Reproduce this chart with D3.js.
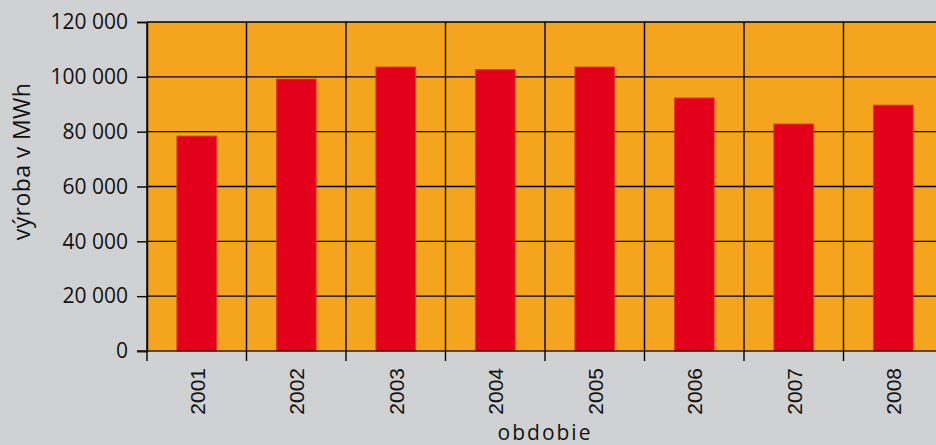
<!DOCTYPE html>
<html lang="sk">
<head>
  <meta charset="UTF-8" />
  <title>Výroba v MWh</title>
  <script src="https://d3js.org/d3.v7.min.js"></script>
  <style>
    body {
      margin: 0;
      background: #d0d1d3;
      overflow: hidden;
    }
    svg {
      display: block;
    }
  </style>
</head>
<body>
  <svg width="936" height="445"></svg>

  <script>
    // data
    const years = ["2001", "2002", "2003", "2004", "2005", "2006", "2007", "2008"];
    const production = [78400, 99200, 103600, 102700, 103600, 92300, 82800, 89700];
    const yTicks = [0, 20000, 40000, 60000, 80000, 100000, 120000];

    const svg = d3.select("svg");

    const plotLeft = 147, plotTop = 22, plotBottom = 351;
    const plotRight = 943; // last band runs past the picture edge

    const x = d3.scaleBand()
      .domain(years)
      .range([plotLeft, plotRight])
      .paddingInner(0.6)
      .paddingOuter(0.3);

    const y = d3.scaleLinear()
      .domain([0, 120000])
      .range([plotBottom, plotTop]);

    const fmt = v => d3.format(",")(v).replace(/,/g, " ");

    // plot background
    svg.append("rect")
      .attr("x", plotLeft)
      .attr("y", plotTop)
      .attr("width", plotRight - plotLeft)
      .attr("height", plotBottom - plotTop)
      .attr("fill", "#f5a41d");

    // horizontal grid
    svg.append("g")
      .selectAll("line")
      .data(yTicks.filter(d => d > 0))
      .join("line")
      .attr("x1", plotLeft)
      .attr("x2", plotRight)
      .attr("y1", d => y(d))
      .attr("y2", d => y(d))
      .attr("stroke", "#000")
      .attr("stroke-width", 1.4);

    // vertical grid at band boundaries
    const step = x.step();
    const bounds = years.map((d, i) => plotLeft + i * step);
    bounds.push(plotRight);
    svg.append("g")
      .selectAll("line")
      .data(bounds)
      .join("line")
      .attr("x1", d => d)
      .attr("x2", d => d)
      .attr("y1", plotTop)
      .attr("y2", plotBottom)
      .attr("stroke", "#000")
      .attr("stroke-width", 1.4);

    // bars
    svg.append("g")
      .selectAll("rect")
      .data(years)
      .join("rect")
      .attr("x", d => x(d))
      .attr("y", (d, i) => y(production[i]))
      .attr("width", x.bandwidth())
      .attr("height", (d, i) => plotBottom - y(production[i]))
      .attr("fill", "#e2001a")
      .attr("stroke", "#ee3a1c")
      .attr("stroke-width", 0.8);

    // y axis
    const yAxis = svg.append("g")
      .attr("transform", `translate(${plotLeft},0)`)
      .call(d3.axisLeft(y).tickValues(yTicks).tickFormat(fmt).tickSize(10).tickPadding(9));
    yAxis.select(".domain").attr("stroke", "#000").attr("stroke-width", 1.4);
    yAxis.selectAll(".tick line").attr("stroke", "#000").attr("stroke-width", 1.4);
    yAxis.selectAll("text")
      .attr("font-family", "'Open Sans', sans-serif")
      .attr("font-size", 21)
      .attr("fill", "#111");

    // x axis: ticks at the boundaries, labels in the bands
    const xAxis = svg.append("g").attr("transform", `translate(0,${plotBottom})`);
    xAxis.append("line")
      .attr("x1", plotLeft - 10)
      .attr("x2", plotRight)
      .attr("stroke", "#2b2010")
      .attr("stroke-width", 1.6);
    xAxis.selectAll(".tk")
      .data(bounds)
      .join("line")
      .attr("class", "tk")
      .attr("x1", d => d)
      .attr("x2", d => d)
      .attr("y1", 0)
      .attr("y2", 10)
      .attr("stroke", "#000")
      .attr("stroke-width", 1.4);
    xAxis.selectAll("text")
      .data(years)
      .join("text")
      .attr("transform", d => `translate(${x(d) + x.bandwidth() / 2 + 8},17) rotate(-90)`)
      .attr("text-anchor", "end")
      .attr("font-family", "'Liberation Sans', Arial, sans-serif")
      .attr("font-size", 21)
      .attr("fill", "#111")
      .text(d => d);

    // axis titles
    svg.append("text")
      .attr("transform", `translate(30,${(83 + 240) / 2}) rotate(-90)`)
      .attr("text-anchor", "middle")
      .attr("font-family", "'Open Sans', sans-serif")
      .attr("font-size", 23)
      .attr("letter-spacing", 0.4)
      .attr("fill", "#111")
      .text("výroba v MWh");

    svg.append("text")
      .attr("x", (plotLeft + plotRight) / 2)
      .attr("y", 440)
      .attr("text-anchor", "middle")
      .attr("font-family", "'Open Sans', sans-serif")
      .attr("font-size", 21)
      .attr("letter-spacing", 2)
      .attr("fill", "#111")
      .text("obdobie");
  </script>
</body>
</html>
